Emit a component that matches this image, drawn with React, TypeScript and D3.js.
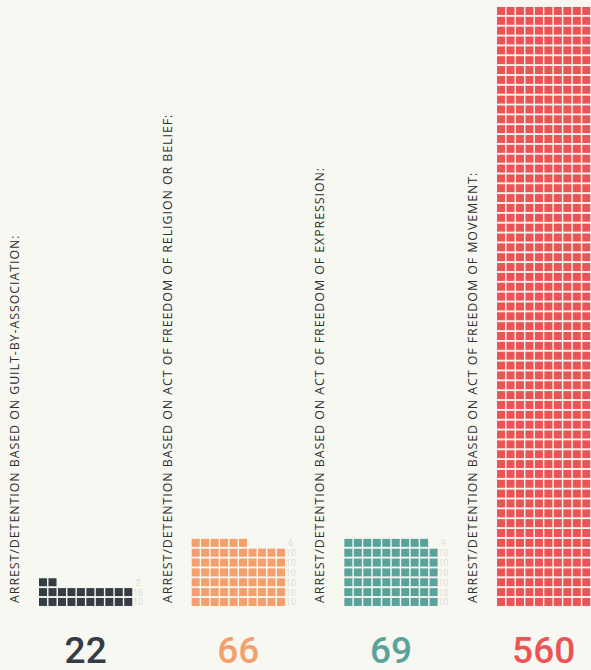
import React from "react";
import * as d3 from "d3";

const categories = [
  "ARREST/DETENTION BASED ON GUILT-BY-ASSOCIATION:",
  "ARREST/DETENTION BASED ON ACT OF FREEDOM OF RELIGION OR BELIEF:",
  "ARREST/DETENTION BASED ON ACT OF FREEDOM OF EXPRESSION:",
  "ARREST/DETENTION BASED ON ACT OF FREEDOM OF MOVEMENT:",
];
// totals printed under each waffle
const totals = [22, 66, 69, 560];
// squares drawn in each waffle, as counted in the picture (10 per row)
const cellCounts = [22, 66, 69, 610];
const colors = ["#363c46", "#f4a06c", "#5aa39a", "#ea5455"];
const perRow = 10;

const W = 591;
const H = 670;
const BG = "#f8f8f3";

export default function App() {
  const colScale = d3
    .scaleBand<number>()
    .domain(d3.range(categories.length))
    .range([39, 590.3])
    .paddingInner(0.389)
    .paddingOuter(0);
  const cellX = d3
    .scaleBand<number>()
    .domain(d3.range(perRow))
    .range([0, colScale.bandwidth()])
    .paddingInner(0.15);
  const maxRows = d3.max(cellCounts, (c) => Math.ceil(c / perRow)) as number;
  const rowStep = 9.85;
  const yBottom = 607.8;
  const rowY = d3
    .scaleLinear()
    .domain([0, maxRows])
    .range([yBottom, yBottom - maxRows * rowStep]);
  const cellH = 8;

  return (
    <svg
      width={W}
      height={H}
      style={{ position: "fixed", left: 0, top: 0, display: "block" }}
    >
      <rect x={0} y={0} width={W} height={H} fill={BG} />
      {categories.map((cat, i) => {
        const x0 = colScale(i) as number;
        const n = cellCounts[i];
        const rows = Math.ceil(n / perRow);
        const cells = d3.range(n);
        const rowCounts = d3.range(rows).map((r) =>
          Math.min(perRow, n - r * perRow)
        );
        return (
          <g key={cat}>
            <text
              transform={`translate(${x0 - 20},603) rotate(-90)`}
              fontFamily="'Open Sans', sans-serif"
              fontSize={12.4}
              letterSpacing={0.95}
              fill="#2f2f2f"
            >
              {cat}
            </text>
            {cells.map((c) => {
              const r = Math.floor(c / perRow);
              const k = c % perRow;
              return (
                <rect
                  key={c}
                  x={x0 + (cellX(k) as number)}
                  y={rowY(r + 1)}
                  width={cellX.bandwidth()}
                  height={cellH}
                  fill={colors[i]}
                />
              );
            })}
            {rowCounts.map((rc, r) =>
              x0 + 99 < W - 4 ? (
                <text
                  key={"l" + r}
                  x={x0 + 99}
                  y={rowY(r + 1) + cellH - 0.5}
                  textAnchor="middle"
                  fontFamily="Roboto, sans-serif"
                  fontSize={9}
                  fill="#dcdcd6"
                >
                  {rc}
                </text>
              ) : null
            )}
            <text
              x={x0 + colScale.bandwidth() / 2}
              y={663}
              textAnchor="middle"
              fontFamily="Roboto, sans-serif"
              fontWeight={500}
              fontSize={37}
              fill={colors[i]}
            >
              {totals[i]}
            </text>
          </g>
        );
      })}
    </svg>
  );
}
